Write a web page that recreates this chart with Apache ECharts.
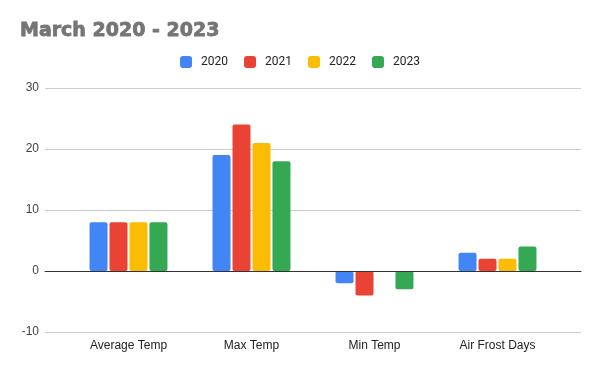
<!DOCTYPE html>
<html>
<head>
<meta charset="utf-8">
<script src="https://cdn.jsdelivr.net/npm/echarts@6/dist/echarts.min.js"></script>
<style>html,body{margin:0;padding:0;background:#fff;}#c{width:600px;height:371px;}</style>
</head>
<body>
<div id="c"></div>
<script>
var categories = ['Average Temp', 'Max Temp', 'Min Temp', 'Air Frost Days'];
var seriesNames = ['2020', '2021', '2022', '2023'];
var v2020 = [8, 19, -2, 3];
var v2021 = [8, 24, -4, 2];
var v2022 = [8, 21, 0, 2];
var v2023 = [8, 18, -3, 4];
var yTicks = [-10, 0, 10, 20, 30];

var colors = ['#4285F4', '#EA4335', '#FBBC04', '#34A853'];
var values = [v2020, v2021, v2022, v2023];

var chart = echarts.init(document.getElementById('c'), null, {renderer: 'canvas'});
var yMin = yTicks[0], yMax = yTicks[yTicks.length - 1], yInt = yTicks[1] - yTicks[0];

var series = seriesNames.map(function (n, i) {
  return {
    name: n,
    type: 'bar',
    xAxisIndex: 1,
    yAxisIndex: 1,
    data: values[i],
    barWidth: 18,
    barGap: '11%',
    itemStyle: {color: colors[i], borderRadius: 2},
    z: 2
  };
});

chart.setOption({
  animation: false,
  color: colors,
  title: {
    text: 'March 2020 - 2023',
    left: 20,
    top: 22,
    padding: 0,
    textStyle: {fontFamily: 'DejaVu Sans', fontWeight: 'bold', fontSize: 19, color: '#757575',
      textBorderColor: '#757575', textBorderWidth: 0.8}
  },
  legend: {
    data: seriesNames,
    top: 56,
    left: 'center',
    padding: 0,
    itemWidth: 12,
    itemHeight: 12,
    itemGap: 16,
    icon: 'roundRect',
    textStyle: {fontFamily: 'Roboto', fontSize: 12, color: '#222', padding: [0, 0, 0, 4]}
  },
  grid: [
    {left: 45, right: 19, top: 88, bottom: 39},
    {left: 67, right: 41, top: 88, bottom: 39}
  ],
  xAxis: [
    {
      type: 'category', gridIndex: 0, data: categories,
      axisLabel: {show: false}, axisTick: {show: false},
      axisLine: {show: true, onZero: true, lineStyle: {color: '#333', width: 1}},
      z: 5
    },
    {
      type: 'category', gridIndex: 1, data: categories,
      axisLine: {show: false}, axisTick: {show: false},
      axisLabel: {fontFamily: 'Liberation Sans', fontSize: 12, color: '#222', margin: 8}
    }
  ],
  yAxis: [
    {
      type: 'value', gridIndex: 0, min: yMin, max: yMax, interval: yInt,
      axisLine: {show: false}, axisTick: {show: false},
      axisLabel: {fontFamily: 'Liberation Sans', fontSize: 12, color: '#444', margin: 6},
      splitLine: {lineStyle: {color: '#ccc', width: 1}}
    },
    {
      type: 'value', gridIndex: 1, min: yMin, max: yMax, interval: yInt,
      axisLine: {show: false}, axisTick: {show: false}, axisLabel: {show: false},
      splitLine: {show: false}
    }
  ],
  series: series
});
</script>
</body>
</html>
